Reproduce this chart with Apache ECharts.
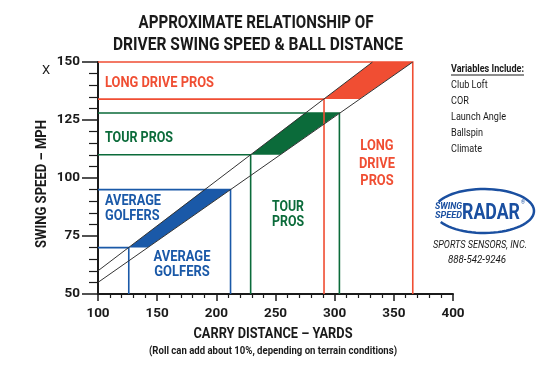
<!DOCTYPE html>
<html><head><meta charset="utf-8">
<script src="https://cdn.jsdelivr.net/npm/echarts@6/dist/echarts.min.js"></script>
<style>html,body{margin:0;padding:0;background:#fff}#c{width:550px;height:366px}</style>
</head><body><div id="c"></div>
<script>
// ---- data ----
const xTickValues = [100, 150, 200, 250, 300, 350, 400];
const yTickValues = [50, 75, 100, 125, 150];
const groups = ['AVERAGE GOLFERS', 'TOUR PROS', 'LONG DRIVE PROS'];
const speedLow = [70, 110, 134];          // mph, lower edge of each band
const speedHigh = [95, 128, 150];         // mph, upper edge of each band
const carryLowShort = [126, 229, 291];    // yards on upper diagonal at low speed
const carryHighShort = [190, 275, 332];   // yards on upper diagonal at high speed
const carryLowLong = [142, 254, 321];     // yards on lower diagonal at low speed
const carryHighLong = [212, 304, 366];    // yards on lower diagonal at high speed
const upperDiagonal = [[100, 60], [332, 150]];
const lowerDiagonal = [[100, 55], [366, 150]];
const variables = ['Club Loft', 'COR', 'Launch Angle', 'Ballspin', 'Climate'];

// ---- styles ----
const colors = ['#1a59a8', '#0b6b3a', '#f04e33'];
const FN = 'Roboto, "Liberation Sans", Arial, sans-serif';
const ink = '#1a1a1a';

const mctx = document.createElement('canvas').getContext('2d');
function fitScale(text, font, w) {
  mctx.font = font;
  const m = Math.max.apply(null, text.split('\n').map(s => mctx.measureText(s).width));
  return w / m;
}

const chart = echarts.init(document.getElementById('c'), null, {renderer: 'canvas'});

const bandData = groups.map((g, i) => [speedLow[i], speedHigh[i], carryLowShort[i], carryHighShort[i], carryLowLong[i], carryHighLong[i]]);

function renderBand(params, api) {
  const i = params.dataIndex;
  const c = colors[i];
  const p = (x, y) => api.coord([x, y]);
  const lo = api.value(0), hi = api.value(1);
  const a = api.value(2), b = api.value(3), cl = api.value(4), d = api.value(5);
  return {
    type: 'group',
    children: [
      {type: 'polygon', shape: {points: [p(a, lo), p(b, hi), p(d, hi), p(cl, lo)]}, style: {fill: c}},
      {type: 'polyline', shape: {points: [p(100, lo), p(a, lo), p(a, 50)]}, style: {stroke: c, lineWidth: 1.6, fill: null}},
      {type: 'polyline', shape: {points: [p(100, hi), p(d, hi), p(d, 50)]}, style: {stroke: c, lineWidth: 1.6, fill: null}}
    ]
  };
}

// text element, horizontally fitted to the width it has in the reference
function txt(text, x, y, w, opt) {
  const style = Object.assign({text: text, fill: ink, font: 'bold 14px ' + FN, textAlign: 'left', textVerticalAlign: 'middle'}, opt || {});
  const el = {type: 'text', x: x, y: y, z: 100, style: style};
  if (w) el.scaleX = fitScale(text, style.font, w);
  return el;
}

// logo swoosh points (decoration)
function ellipsePts(cx, cy, rx, ry, a0, a1) {
  const pts = [];
  for (let k = 0; k <= 60; k++) {
    const t = (a0 + (a1 - a0) * k / 60) * Math.PI / 180;
    pts.push([cx + rx * Math.cos(t), cy + ry * Math.sin(t)]);
  }
  return pts;
}

const yName = txt('SWING SPEED – MPH', 42, 184, 128, {textAlign: 'center'});
yName.rotation = Math.PI / 2;

const varScale = fitScale('Launch Angle', '10.5px ' + FN, 55);

const graphics = [
  txt('APPROXIMATE RELATIONSHIP OF', 256, 23, 235, {font: 'bold 18px ' + FN, textAlign: 'center'}),
  txt('DRIVER SWING SPEED & BALL DISTANCE', 258, 45, 290, {font: 'bold 18px ' + FN, textAlign: 'center'}),
  txt('X', 46, 71, null, {font: '13px ' + FN, textAlign: 'center'}),
  yName,
  txt('CARRY DISTANCE – YARDS', 273, 334, 159, {textAlign: 'center'}),
  txt('(Roll can add about 10%, depending on terrain conditions)', 273, 351, 248, {font: 'bold 10px ' + FN, textAlign: 'center'}),
  // labels inside plot
  txt('LONG DRIVE PROS', 105, 83, 109, {fill: colors[2]}),
  txt('TOUR PROS', 105, 138, 68, {fill: colors[1]}),
  txt('AVERAGE\nGOLFERS', 105, 209, 56, {fill: colors[0], lineHeight: 15}),
  txt('AVERAGE\nGOLFERS', 182, 265, 57, {fill: colors[0], lineHeight: 15, textAlign: 'center'}),
  txt('TOUR\nPROS', 288, 215, 32, {fill: colors[1], lineHeight: 15, textAlign: 'center'}),
  txt('LONG\nDRIVE\nPROS', 377, 164, 36, {fill: colors[2], lineHeight: 17.5, textAlign: 'center'}),
  // variables panel
  txt('Variables Include:', 451, 69, 73, {font: 'bold 10.5px ' + FN}),
  {type: 'line', z: 100, shape: {x1: 451, y1: 75, x2: 524, y2: 75}, style: {stroke: ink, lineWidth: 1}},
  // logo
  {type: 'polyline', z: 90, shape: {points: ellipsePts(484, 211, 50, 22, 205, 510)}, style: {stroke: '#1a4fa0', lineWidth: 2.5, fill: null}},
  txt('SWING', 462, 207, 27, {font: 'italic bold 9px ' + FN, fill: '#1a4fa0', textAlign: 'right'}),
  txt('SPEED', 462, 216, 27, {font: 'italic bold 9px ' + FN, fill: '#1a4fa0', textAlign: 'right'}),
  txt('RADAR', 462, 213, 58, {font: 'bold 22px ' + FN, fill: '#1a4fa0'}),
  txt('®', 521, 203, null, {font: '5px ' + FN, fill: '#1a4fa0'}),
  txt('SPORTS SENSORS, INC.', 480, 245, 94, {font: 'italic 11px ' + FN, textAlign: 'center'}),
  txt('888-542-9246', 477, 260, 58, {font: 'italic 11px ' + FN, textAlign: 'center'})
];
variables.forEach((v, i) => {
  const el = txt(v, 451, 85 + i * 16.2, null, {font: '10.5px ' + FN});
  el.scaleX = varScale;
  graphics.push(el);
});

chart.setOption({
  animation: false,
  backgroundColor: '#fff',
  grid: {left: 98, right: 97, top: 62, bottom: 72, containLabel: false},
  xAxis: {
    type: 'value', min: xTickValues[0], max: xTickValues[xTickValues.length - 1], interval: 50,
    axisLine: {show: true, lineStyle: {color: ink, width: 2}},
    axisTick: {show: true, length: 7, lineStyle: {color: ink, width: 1.5}},
    minorTick: {show: true, splitNumber: 5, length: 4, lineStyle: {color: ink, width: 1.2}},
    splitLine: {show: false},
    axisLabel: {color: ink, fontSize: 13.5, fontWeight: 'bold', fontFamily: FN, margin: 13}
  },
  yAxis: {
    type: 'value', min: yTickValues[0], max: yTickValues[yTickValues.length - 1], interval: 25,
    axisLine: {show: true, lineStyle: {color: ink, width: 2}},
    axisTick: {show: true, length: 16, lineStyle: {color: ink, width: 1.5}},
    minorTick: {show: true, splitNumber: 5, length: 9, lineStyle: {color: ink, width: 1.2}},
    splitLine: {show: false},
    axisLabel: {color: ink, fontSize: 13.5, fontWeight: 'bold', fontFamily: FN, margin: 18}
  },
  series: [
    {type: 'custom', name: 'bands', renderItem: renderBand, data: bandData, z: 2,
     encode: {x: [2, 3, 4, 5], y: [0, 1]}, clip: false},
    {type: 'line', name: 'upper', data: upperDiagonal, symbol: 'none', z: 5,
     lineStyle: {color: '#333', width: 1}},
    {type: 'line', name: 'lower', data: lowerDiagonal, symbol: 'none', z: 5,
     lineStyle: {color: '#333', width: 1}}
  ],
  graphic: graphics
});
</script></body></html>
